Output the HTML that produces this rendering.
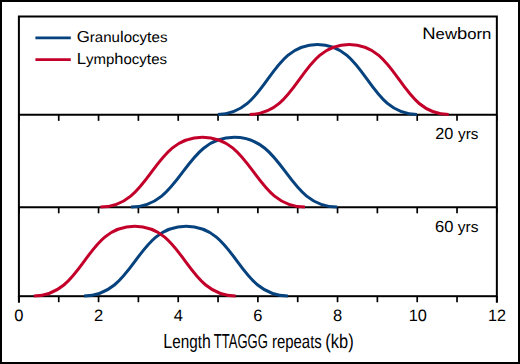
<!DOCTYPE html>
<html><head><meta charset="utf-8"><style>
html,body{margin:0;padding:0;background:#fff;}
svg{display:block;}
text{font-family:"Liberation Sans",sans-serif;fill:#000;text-rendering:geometricPrecision;}
</style></head><body>
<svg width="520" height="364" viewBox="0 0 520 364">
<rect x="1" y="1" width="518" height="362" fill="#fff" stroke="#000" stroke-width="2"/>
<g stroke="#000" stroke-width="2" fill="none">
<rect x="18.9" y="16.5" width="477.95" height="279.7"/>
<line x1="18.9" y1="296" x2="18.9" y2="302.7"/>
<line x1="496.85" y1="296" x2="496.85" y2="302.7"/>
<line x1="18.9" y1="114.85" x2="496.85" y2="114.85"/><line x1="18.9" y1="207.3" x2="496.85" y2="207.3"/>
</g>
<g stroke="#000" stroke-width="1.7">
<line x1="18.90" y1="114.85" x2="18.90" y2="120.85"/><line x1="58.73" y1="114.85" x2="58.73" y2="120.85"/><line x1="98.56" y1="114.85" x2="98.56" y2="120.85"/><line x1="138.39" y1="114.85" x2="138.39" y2="120.85"/><line x1="178.22" y1="114.85" x2="178.22" y2="120.85"/><line x1="218.05" y1="114.85" x2="218.05" y2="120.85"/><line x1="257.88" y1="114.85" x2="257.88" y2="120.85"/><line x1="297.71" y1="114.85" x2="297.71" y2="120.85"/><line x1="337.54" y1="114.85" x2="337.54" y2="120.85"/><line x1="377.37" y1="114.85" x2="377.37" y2="120.85"/><line x1="417.20" y1="114.85" x2="417.20" y2="120.85"/><line x1="457.03" y1="114.85" x2="457.03" y2="120.85"/><line x1="496.86" y1="114.85" x2="496.86" y2="120.85"/><line x1="18.90" y1="207.3" x2="18.90" y2="213.30"/><line x1="58.73" y1="207.3" x2="58.73" y2="213.30"/><line x1="98.56" y1="207.3" x2="98.56" y2="213.30"/><line x1="138.39" y1="207.3" x2="138.39" y2="213.30"/><line x1="178.22" y1="207.3" x2="178.22" y2="213.30"/><line x1="218.05" y1="207.3" x2="218.05" y2="213.30"/><line x1="257.88" y1="207.3" x2="257.88" y2="213.30"/><line x1="297.71" y1="207.3" x2="297.71" y2="213.30"/><line x1="337.54" y1="207.3" x2="337.54" y2="213.30"/><line x1="377.37" y1="207.3" x2="377.37" y2="213.30"/><line x1="417.20" y1="207.3" x2="417.20" y2="213.30"/><line x1="457.03" y1="207.3" x2="457.03" y2="213.30"/><line x1="496.86" y1="207.3" x2="496.86" y2="213.30"/><line x1="18.90" y1="296.2" x2="18.90" y2="302.20"/><line x1="58.73" y1="296.2" x2="58.73" y2="302.20"/><line x1="98.56" y1="296.2" x2="98.56" y2="302.20"/><line x1="138.39" y1="296.2" x2="138.39" y2="302.20"/><line x1="178.22" y1="296.2" x2="178.22" y2="302.20"/><line x1="218.05" y1="296.2" x2="218.05" y2="302.20"/><line x1="257.88" y1="296.2" x2="257.88" y2="302.20"/><line x1="297.71" y1="296.2" x2="297.71" y2="302.20"/><line x1="337.54" y1="296.2" x2="337.54" y2="302.20"/><line x1="377.37" y1="296.2" x2="377.37" y2="302.20"/><line x1="417.20" y1="296.2" x2="417.20" y2="302.20"/><line x1="457.03" y1="296.2" x2="457.03" y2="302.20"/><line x1="496.86" y1="296.2" x2="496.86" y2="302.20"/>
</g>
<g fill="none" stroke-width="3" stroke-linecap="butt">
<path d="M217.80,114.40 C267.60,114.40 267.60,44.40 317.40,44.40 C367.20,44.40 367.20,114.40 417.00,114.40" stroke="#06427d"/><path d="M249.70,114.40 C299.45,114.40 299.45,44.50 349.20,44.50 C398.98,44.50 398.98,114.40 448.75,114.40" stroke="#c2002a"/><path d="M131.00,207.00 C182.65,207.00 182.65,137.35 234.30,137.35 C285.75,137.35 285.75,207.00 337.20,207.00" stroke="#06427d"/><path d="M100.40,207.00 C151.45,207.00 151.45,137.15 202.50,137.15 C253.75,137.15 253.75,207.00 305.00,207.00" stroke="#c2002a"/><path d="M84.00,295.90 C135.10,295.90 135.10,226.27 186.20,226.27 C237.05,226.27 237.05,295.90 287.90,295.90" stroke="#06427d"/><path d="M33.90,295.90 C84.30,295.90 84.30,226.27 134.70,226.27 C185.20,226.27 185.20,295.90 235.70,295.90" stroke="#c2002a"/>
</g>
<line x1="35.4" y1="37.8" x2="70.8" y2="37.8" stroke="#06427d" stroke-width="2.7"/>
<line x1="35.4" y1="59.6" x2="70.8" y2="59.6" stroke="#c2002a" stroke-width="2.6"/>
<text x="76.73" y="42.0" textLength="90.71" lengthAdjust="spacingAndGlyphs"><tspan font-size="15.9">G</tspan><tspan font-size="14.2">ranu</tspan><tspan font-size="15.6">l</tspan><tspan font-size="14.2">ocy</tspan><tspan font-size="15.0">t</tspan><tspan font-size="14.2">es</tspan></text><text x="76.78" y="63.7" textLength="90.24" lengthAdjust="spacingAndGlyphs"><tspan font-size="15.9">L</tspan><tspan font-size="14.2">ymp</tspan><tspan font-size="15.6">h</tspan><tspan font-size="14.2">ocy</tspan><tspan font-size="15.0">t</tspan><tspan font-size="14.2">es</tspan></text><text x="422.27" y="38.6" textLength="69.09" lengthAdjust="spacingAndGlyphs"><tspan font-size="16.6">N</tspan><tspan font-size="15.0">ew</tspan><tspan font-size="16.5">b</tspan><tspan font-size="15.0">orn</tspan></text><text x="435.30" y="138.9" textLength="18.08" lengthAdjust="spacingAndGlyphs"><tspan font-size="16.0">20</tspan></text><text x="458.08" y="138.9" textLength="20.36" lengthAdjust="spacingAndGlyphs"><tspan font-size="15.0">yrs</tspan></text><text x="434.97" y="231.6" textLength="18.37" lengthAdjust="spacingAndGlyphs"><tspan font-size="16.0">60</tspan></text><text x="457.77" y="231.6" textLength="20.66" lengthAdjust="spacingAndGlyphs"><tspan font-size="15.0">yrs</tspan></text><text x="163.26" y="348.2" textLength="47.47" lengthAdjust="spacingAndGlyphs"><tspan font-size="20.2">L</tspan><tspan font-size="19.1">eng</tspan><tspan font-size="18.6">t</tspan><tspan font-size="19.8">h</tspan></text><text x="213.77" y="348.2" textLength="54.04" lengthAdjust="spacingAndGlyphs"><tspan font-size="20.2">TTAGGG</tspan></text><text x="271.94" y="348.2" textLength="49.78" lengthAdjust="spacingAndGlyphs"><tspan font-size="19.1">repea</tspan><tspan font-size="18.6">t</tspan><tspan font-size="19.1">s</tspan></text><text x="325.23" y="348.2" textLength="28.44" lengthAdjust="spacingAndGlyphs"><tspan font-size="20.0">(</tspan><tspan font-size="19.8">kb</tspan><tspan font-size="20.0">)</tspan></text><text x="408.72" y="321.2" textLength="18.16" lengthAdjust="spacingAndGlyphs"><tspan font-size="16.5">10</tspan></text><text x="487.96" y="321.2" textLength="18.00" lengthAdjust="spacingAndGlyphs"><tspan font-size="16.5">12</tspan></text>
<g font-size="16.5">
<text x="18.90" y="321.2" text-anchor="middle">0</text><text x="98.56" y="321.2" text-anchor="middle">2</text><text x="178.22" y="321.2" text-anchor="middle">4</text><text x="257.88" y="321.2" text-anchor="middle">6</text><text x="337.54" y="321.2" text-anchor="middle">8</text>
</g>
</svg>
</body></html>
